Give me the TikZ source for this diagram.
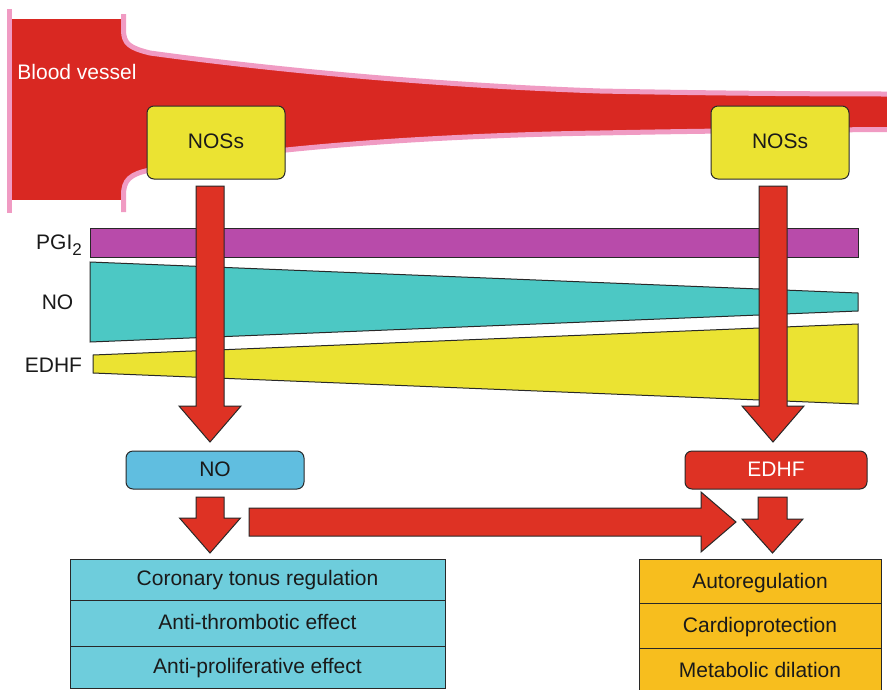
\documentclass[tikz,border=0pt]{standalone}
\usepackage{fontspec}
\setmainfont{Liberation Sans}
\usetikzlibrary{calc}

\definecolor{vesselred}{RGB}{217,40,34}
\definecolor{wallpink}{RGB}{240,155,195}
\definecolor{arrowred}{RGB}{222,50,36}
\definecolor{nosyellow}{RGB}{235,227,50}
\definecolor{pgipurple}{RGB}{184,75,170}
\definecolor{noteal}{RGB}{76,200,196}
\definecolor{noblue}{RGB}{96,190,224}
\definecolor{effcyan}{RGB}{110,205,220}
\definecolor{efforange}{RGB}{247,190,30}
\definecolor{edge}{RGB}{40,40,40}
\definecolor{ink}{RGB}{26,26,26}

% down-pointing block arrow: start, tip, shaft half-width, head half-width, head length
\newcommand\blockdown[5]{%
  \filldraw[blockarrow] let \p1=(#1), \p2=(#2) in
    (\x1-#3,\y1) -- (\x1+#3,\y1) -- (\x1+#3,\y2+#5) -- (\x1+#4,\y2+#5)
    -- (\x1,\y2) -- (\x1-#4,\y2+#5) -- (\x1-#3,\y2+#5) -- cycle;}
% right-pointing block arrow: start, tip, shaft half-width, head half-width, head length
\newcommand\blockright[5]{%
  \filldraw[blockarrow] let \p1=(#1), \p2=(#2) in
    (\x1,\y1+#3) -- (\x2-#5,\y1+#3) -- (\x2-#5,\y1+#4) -- (\x2,\y1)
    -- (\x2-#5,\y1-#4) -- (\x2-#5,\y1-#3) -- (\x1,\y1-#3) -- cycle;}

\begin{document}
\begin{tikzpicture}[x=1pt,y=-1pt,
  font=\fontsize{21}{25}\selectfont, text=ink,
  wall/.style={draw=wallpink, line width=5pt},
  blockarrow/.style={fill=arrowred, draw=edge, line width=1pt, line join=miter},
  band/.style={draw=edge, line width=1pt},
  box/.style={draw=edge, line width=1pt, inner sep=0pt, outer sep=0pt,
    text height=15pt, text depth=3pt},
  nosbox/.style={box, fill=nosyellow, rounded corners=7pt,
    minimum width=138pt, minimum height=73pt},
  mediator/.style={box, rounded corners=7pt, minimum height=38pt},
  effrowL/.style={box, fill=effcyan, minimum width=375pt},
  effrowR/.style={box, fill=efforange, minimum width=242pt, text depth=1pt},
  lbl/.style={inner sep=0pt, anchor=base}]

\fill[white] (0,0) rectangle (887,689);
\useasboundingbox (0,0) rectangle (887,689);

% blood vessel: wide trunk narrowing into a tube
\fill[vesselred] (9.5,19) rectangle (123.5,200);
\fill[vesselred] (123.5,30) .. controls (123.5,44) and (130,48) .. (150,53)
  .. controls (230,64) and (400,84) .. (600,91)
  .. controls (700,93) and (800,94) .. (892,94)
  -- (892,129.5) .. controls (800,130) and (700,131) .. (600,133)
  .. controls (400,136) and (230,152) .. (150,170)
  .. controls (130,174) and (123.5,180) .. (123.5,195) -- cycle;
\draw[wall] (9.5,9) -- (9.5,213);
\draw[wall] (123.5,14) -- (123.5,30) .. controls (123.5,44) and (130,48) .. (150,53)
  .. controls (230,64) and (400,84) .. (600,91)
  .. controls (700,93) and (800,94) .. (892,94);
\draw[wall] (123.5,212) -- (123.5,195) .. controls (123.5,180) and (130,174) .. (150,170)
  .. controls (230,152) and (400,136) .. (600,133)
  .. controls (700,131) and (800,130) .. (892,129.5);
\node[lbl, text=white] (vessel) at (77,79) {Blood vessel};

% enzyme boxes on the vessel
\node[nosbox] (nosL) at (216,142.5) {NOSs};
\node[nosbox] (nosR) at (780,142.5) {NOSs};

% mediator bands along the vessel
\filldraw[band, fill=pgipurple] (90,228) rectangle (858,257);
\filldraw[band, fill=noteal] (90,262) -- (858,293) -- (858,311) -- (90,342) -- cycle;
\filldraw[band, fill=nosyellow] (93,355) -- (858,324) -- (858,404) -- (93,373) -- cycle;
\node[lbl, anchor=base east] (lpgi) at (82,249)
  {PGI\raisebox{-6pt}{\fontsize{17}{17}\selectfont 2}};
\node[lbl] (lno) at (57.5,309) {NO};
\node[lbl] (ledhf) at (53.5,372) {EDHF};

% long arrows from the enzymes to the mediators
\coordinate (nosL-out) at (210,186);
\coordinate (nosR-out) at (773,186);
\coordinate (noM-in) at (210,442);
\coordinate (edhfM-in) at (773,442);
\blockdown{nosL-out}{noM-in}{14pt}{31pt}{36pt}
\blockdown{nosR-out}{edhfM-in}{14pt}{31pt}{36pt}

% mediators
\node[mediator, fill=noblue, minimum width=178pt] (noM) at (215,470) {NO};
\node[mediator, fill=arrowred, minimum width=182pt, text=white] (edhfM) at (776,470) {EDHF};

% short arrows to the effects
\coordinate (noM-out) at (210,497);
\coordinate (effL-in) at (210,553);
\coordinate (edhfM-out) at (772.5,497);
\coordinate (effR-in) at (772.5,553);
\coordinate (cross-start) at (249,522);
\coordinate (cross-tip) at (736,522);
\blockdown{noM-out}{effL-in}{14pt}{30.5pt}{35pt}
\blockdown{edhfM-out}{effR-in}{14.5pt}{30.5pt}{34pt}
\blockright{cross-start}{cross-tip}{14pt}{30pt}{35pt}

% effects of NO
\node[effrowL, minimum height=41pt] (effL1) at (257.5,579.5) {Coronary tonus regulation};
\node[effrowL, minimum height=46pt] (effL2) at (257.5,623) {Anti-thrombotic effect};
\node[effrowL, minimum height=42pt] (effL3) at (257.5,667) {Anti-proliferative effect};

% effects of EDHF
\node[effrowR, minimum height=44pt] (effR1) at (760,581) {Autoregulation};
\node[effrowR, minimum height=45pt] (effR2) at (760,625.5) {Cardioprotection};
\node[effrowR, minimum height=45pt] (effR3) at (760,670.5) {Metabolic dilation};
\end{tikzpicture}
\end{document}
